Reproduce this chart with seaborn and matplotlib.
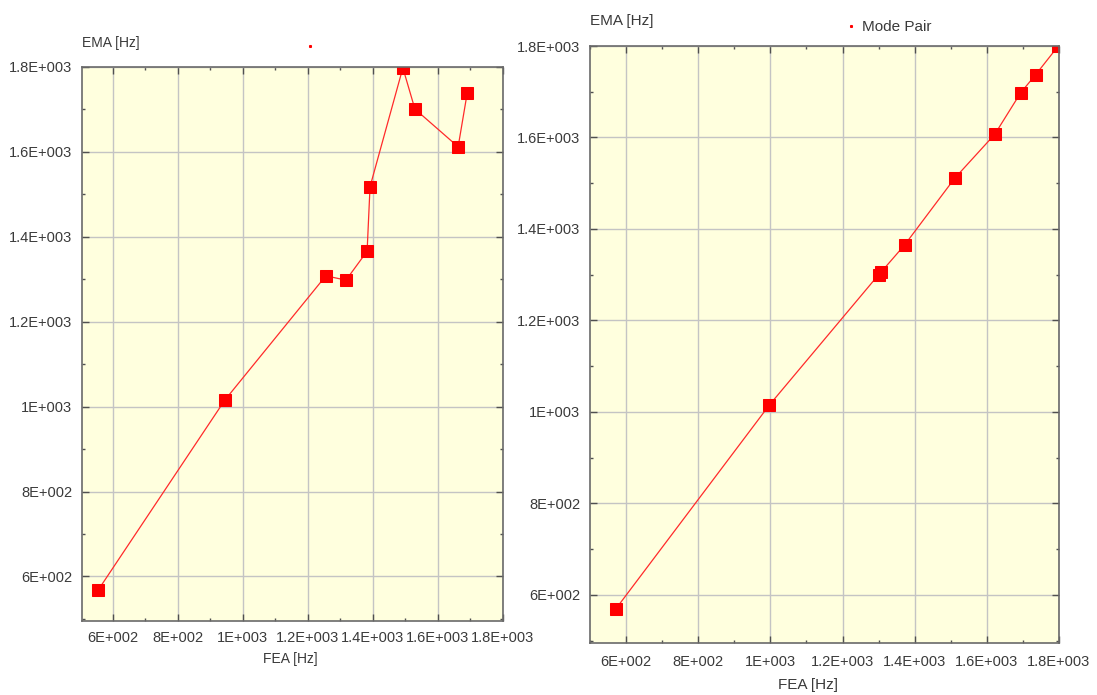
import numpy as np
import matplotlib
matplotlib.use("Agg")
import matplotlib.pyplot as plt
from matplotlib.ticker import FuncFormatter, MultipleLocator
from matplotlib.lines import Line2D
import seaborn as sns

# Mode pairs: FEA frequency vs measured EMA frequency (Hz)
fea_hz = [554, 945, 1255, 1317, 1382, 1391, 1492, 1529, 1662, 1690]
ema_hz = [567, 1016, 1308, 1298, 1366, 1518, 1798, 1701, 1612, 1739]

# Correlated pairs after re-matching
pair_fea_hz = [572, 997, 1300, 1306, 1372, 1511, 1622, 1694, 1735, 1798]
pair_ema_hz = [570, 1015, 1300, 1305, 1365, 1511, 1607, 1698, 1737, 1800]

tick_values = [600, 800, 1000, 1200, 1400, 1600, 1800]

sns.set_theme(style="white")
plt.rcParams["font.family"] = ["Liberation Sans", "DejaVu Sans"]

TEXT = "#3a3a3a"
BG = "#ffffde"
GRID = "#c4c4c4"
RED = "#ff0000"


def sci_label(v, pos=None):
    if v == 0:
        return "0"
    exp = int(np.floor(np.log10(abs(v))))
    mant = v / 10 ** exp
    m = f"{mant:.1f}".rstrip("0").rstrip(".")
    sign = "+" if exp >= 0 else "-"
    return f"{m}E{sign}{abs(exp):03d}"


def style_axes(ax, xlim, ylim, xpad, ypad):
    ax.set_facecolor(BG)
    ax.set_xlim(*xlim)
    ax.set_ylim(*ylim)
    ax.set_xticks(tick_values)
    ax.set_yticks(tick_values)
    ax.xaxis.set_minor_locator(MultipleLocator(100))
    ax.yaxis.set_minor_locator(MultipleLocator(100))
    ax.xaxis.set_major_formatter(FuncFormatter(sci_label))
    ax.yaxis.set_major_formatter(FuncFormatter(sci_label))
    ax.grid(True, which="major", color=GRID, linewidth=1.0)
    ax.set_axisbelow(True)
    ax.tick_params(which="both", direction="in", top=True, right=True,
                   bottom=True, left=True, color="#505050", width=1.0,
                   labelsize=10.5, labelcolor=TEXT)
    ax.tick_params(which="major", length=5)
    ax.tick_params(which="minor", length=2.5)
    ax.tick_params(axis="x", which="major", pad=xpad)
    ax.tick_params(axis="y", which="major", pad=ypad)
    for s in ax.spines.values():
        s.set_color("#6a6a6a")
        s.set_linewidth(1.2)
    ax.set_xlabel("")
    ax.set_ylabel("")


fig = plt.figure(figsize=(10.97, 6.95), dpi=100)
fig.patch.set_facecolor("white")

ax1 = fig.add_axes([82 / 1097, 1 - 621 / 695, 421 / 1097, 554 / 695])
ax2 = fig.add_axes([590 / 1097, 1 - 643 / 695, 469 / 1097, 597 / 695])

for ax, xs, ys in ((ax1, fea_hz, ema_hz), (ax2, pair_fea_hz, pair_ema_hz)):
    sns.lineplot(x=xs, y=ys, ax=ax, sort=False, estimator=None,
                 color="#ff2a2a", linewidth=0.9, marker="s", markersize=8,
                 markerfacecolor=RED, markeredgecolor=RED, legend=False)

style_axes(ax1, (505, 1800), (495, 1800), xpad=7, ypad=7)
style_axes(ax2, (500, 1800), (495, 1800), xpad=9, ypad=7)

# Axis titles
fig.text(82 / 1097, 1 - 43 / 695, "EMA [Hz]", fontsize=10, color=TEXT,
         ha="left", va="center")
fig.text(290 / 1097, 1 - 659 / 695, "FEA [Hz]", fontsize=10, color=TEXT,
         ha="center", va="center")
fig.text(590 / 1097, 1 - 21 / 695, "EMA [Hz]", fontsize=11, color=TEXT,
         ha="left", va="center")
fig.text(808 / 1097, 1 - 685 / 695, "FEA [Hz]", fontsize=11, color=TEXT,
         ha="center", va="center")

# Legends: tiny point symbol
dot = Line2D([], [], linestyle="none", marker="s", markersize=1.2,
             color=RED)
ax1.legend(handles=[dot], labels=[""], loc="center",
           bbox_to_anchor=(310 / 1097, 1 - 47 / 695),
           bbox_transform=fig.transFigure, frameon=False,
           handlelength=0.3, handletextpad=0.0, fontsize=10)
ax2.legend(handles=[dot], labels=["Mode Pair"], loc="center",
           bbox_to_anchor=(890 / 1097, 1 - 27 / 695),
           bbox_transform=fig.transFigure, frameon=False,
           handlelength=0.4, handletextpad=0.5, fontsize=11,
           labelcolor=TEXT)

fig.savefig("out.png", dpi=100, facecolor="white")
